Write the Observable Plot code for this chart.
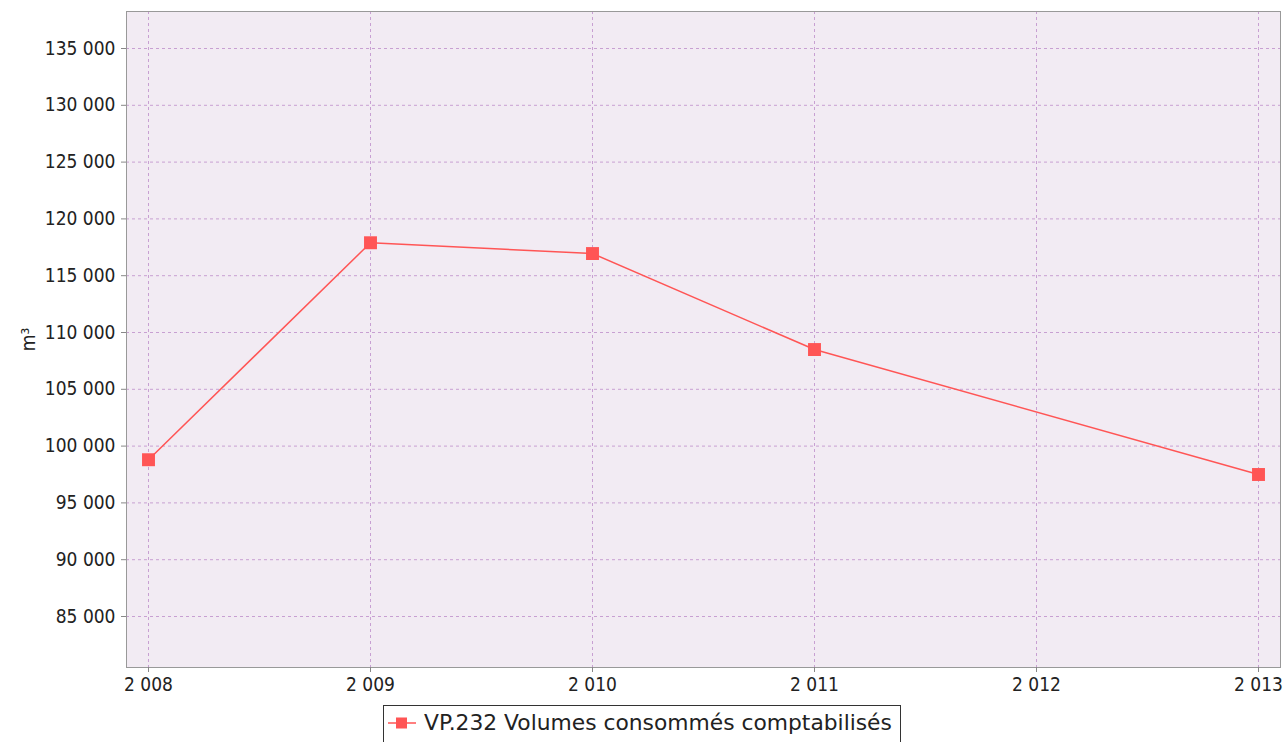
<!DOCTYPE html>
<html>
<head>
<meta charset="utf-8">
<script src="https://cdn.jsdelivr.net/npm/d3@7"></script>
<script src="https://cdn.jsdelivr.net/npm/@observablehq/plot@0.6"></script>
<style>
  html, body { margin: 0; padding: 0; background: #fff; }
  #chart { position: relative; width: 1286px; height: 742px; overflow: hidden; }
  #legend {
    position: absolute; left: 383px; top: 705px;
    border: 1px solid #333; padding: 4px 8px 10px 4px;
    font-family: "DejaVu Sans", sans-serif; font-size: 21.8px; color: #222;
    display: flex; align-items: center; white-space: nowrap; background: #fff;
  }
  #legend svg { margin-right: 8px; }
</style>
</head>
<body>
<div id="chart"></div>
<script>
const years = [2008, 2009, 2010, 2011, 2013];
const values = [98800, 117900, 116950, 108500, 97500];
const yTicks = [85000, 90000, 95000, 100000, 105000, 110000, 115000, 120000, 125000, 130000, 135000];
const xTicks = [2008, 2009, 2010, 2011, 2012, 2013];
const seriesName = "VP.232 Volumes consommés comptabilisés";
const yLabel = "m³";
const lineColor = "#ff5555";

const data = years.map((y, i) => ({year: y, value: values[i]}));
const fmt = v => d3.format(",")(v).replace(/,/g, " ");

const chart = Plot.plot({
  width: 1286,
  height: 700,
  marginLeft: 126,
  marginRight: 6,
  marginTop: 11,
  marginBottom: 33,
  style: {fontFamily: "'DejaVu Sans Condensed', 'DejaVu Sans', sans-serif", fontSize: "19px", color: "#333", background: "#fff"},
  x: {domain: [2008, 2013], insetLeft: 22, insetRight: 22},
  y: {domain: [85000, 135000], insetTop: 37, insetBottom: 51},
  marks: [
    Plot.frame({fill: "#f2ebf3"}),
    Plot.gridX(xTicks, {stroke: "#c8a0d2", strokeOpacity: 1, strokeDasharray: "3,3"}),
    Plot.gridY(yTicks, {stroke: "#c8a0d2", strokeOpacity: 1, strokeDasharray: "3,3"}),
    Plot.frame({stroke: "#999"}),
    Plot.axisX(xTicks, {tickFormat: fmt, tickSize: 5, tickPadding: 5, stroke: "#888", fill: "#222", label: null}),
    Plot.axisY(yTicks, {tickFormat: fmt, tickSize: 5, tickPadding: 6, stroke: "#888", fill: "#222",
      label: yLabel, labelAnchor: "center", labelOffset: 105, labelArrow: "none"}),
    Plot.line(data, {x: "year", y: "value", stroke: lineColor, strokeWidth: 1.5}),
    Plot.dot(data, {x: "year", y: "value", symbol: "square", r: 7.3, fill: lineColor, stroke: "none"})
  ]
});
const root = document.getElementById("chart");
root.appendChild(chart);

const legend = document.createElement("div");
legend.id = "legend";
legend.innerHTML = `<svg width="28" height="14"><line x1="0" y1="7" x2="28" y2="7" stroke="${lineColor}" stroke-width="1.5"/><rect x="8" y="1.5" width="11" height="11" fill="${lineColor}"/></svg><span>${seriesName}</span>`;
root.appendChild(legend);
</script>
</body>
</html>
